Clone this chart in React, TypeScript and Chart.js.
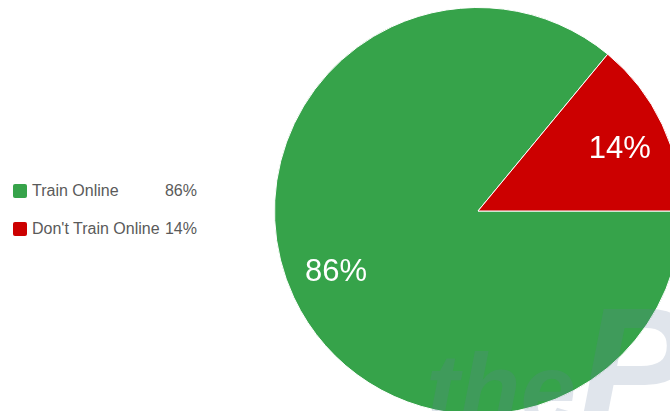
import React, { useEffect, useRef } from "react";
import { Chart, registerables } from "chart.js";

Chart.register(...registerables);

const categories = ["Train Online", "Don't Train Online"];
const values = [86, 14];
const percentLabels = ["86%", "14%"];
const colors = ["#36A34A", "#CC0000"];

const sliceLabelPlugin = {
  id: "sliceLabels",
  afterDatasetsDraw(chart: any) {
    const ctx = chart.ctx;
    const meta = chart.getDatasetMeta(0);
    ctx.save();
    ctx.fillStyle = "#ffffff";
    ctx.font = "31px 'Liberation Sans', Arial, sans-serif";
    ctx.textAlign = "center";
    ctx.textBaseline = "middle";
    meta.data.forEach((arc: any, i: number) => {
      const { x, y, startAngle, endAngle, outerRadius } = arc.getProps(
        ["x", "y", "startAngle", "endAngle", "outerRadius"],
        true
      );
      const mid = (startAngle + endAngle) / 2 + 0.03;
      const r = outerRadius * 0.76;
      ctx.fillText(percentLabels[i], x + Math.cos(mid) * r, y + Math.sin(mid) * r);
    });
    ctx.restore();
  },
};

export default function App() {
  const ref = useRef<HTMLCanvasElement>(null);
  useEffect(() => {
    const chart = new Chart(ref.current!, {
      type: "pie",
      data: {
        labels: categories,
        datasets: [
          {
            data: values,
            backgroundColor: colors,
            borderColor: "#ffffff",
            borderWidth: 1,
          },
        ],
      },
      options: {
        animation: false,
        responsive: false,
        rotation: 90,
        layout: { padding: 0 },
        plugins: { legend: { display: false }, tooltip: { enabled: false } },
      },
      plugins: [sliceLabelPlugin],
    });
    return () => chart.destroy();
  }, []);

  const font = "'Liberation Sans', Arial, sans-serif";
  return (
    <div
      style={{
        position: "fixed",
        left: 0,
        top: 0,
        width: 670,
        height: 411,
        overflow: "hidden",
        background: "#ffffff",
        fontFamily: font,
      }}
    >
      <canvas
        ref={ref}
        width={408}
        height={408}
        style={{ position: "absolute", left: 274, top: 7, width: 408, height: 408 }}
      />
      <div
        style={{
          position: "absolute",
          left: 426,
          top: 334,
          fontSize: 100,
          fontWeight: "bold",
          fontStyle: "italic",
          color: "rgba(100,125,160,0.2)",
          lineHeight: "110px",
          whiteSpace: "nowrap",
          pointerEvents: "none",
        }}
      >
        the
      </div>
      <div
        style={{
          position: "absolute",
          left: 578,
          top: 272,
          fontSize: 170,
          fontWeight: "bold",
          fontStyle: "italic",
          color: "rgba(100,125,160,0.2)",
          lineHeight: "190px",
          whiteSpace: "nowrap",
          pointerEvents: "none",
        }}
      >
        P
      </div>
      {categories.map((c, i) => (
        <div
          key={c}
          style={{
            position: "absolute",
            left: 13,
            top: 181 + i * 38,
            width: 184,
            height: 20,
            fontSize: 16,
            color: "#5a5a5a",
            lineHeight: "20px",
          }}
        >
          <span
            style={{
              position: "absolute",
              left: 0,
              top: 3,
              width: 14,
              height: 14,
              background: colors[i],
              borderRadius: 2,
            }}
          />
          <span style={{ position: "absolute", left: 19, top: 0, whiteSpace: "nowrap" }}>{c}</span>
          <span style={{ position: "absolute", right: 0, top: 0 }}>{percentLabels[i]}</span>
        </div>
      ))}
    </div>
  );
}
